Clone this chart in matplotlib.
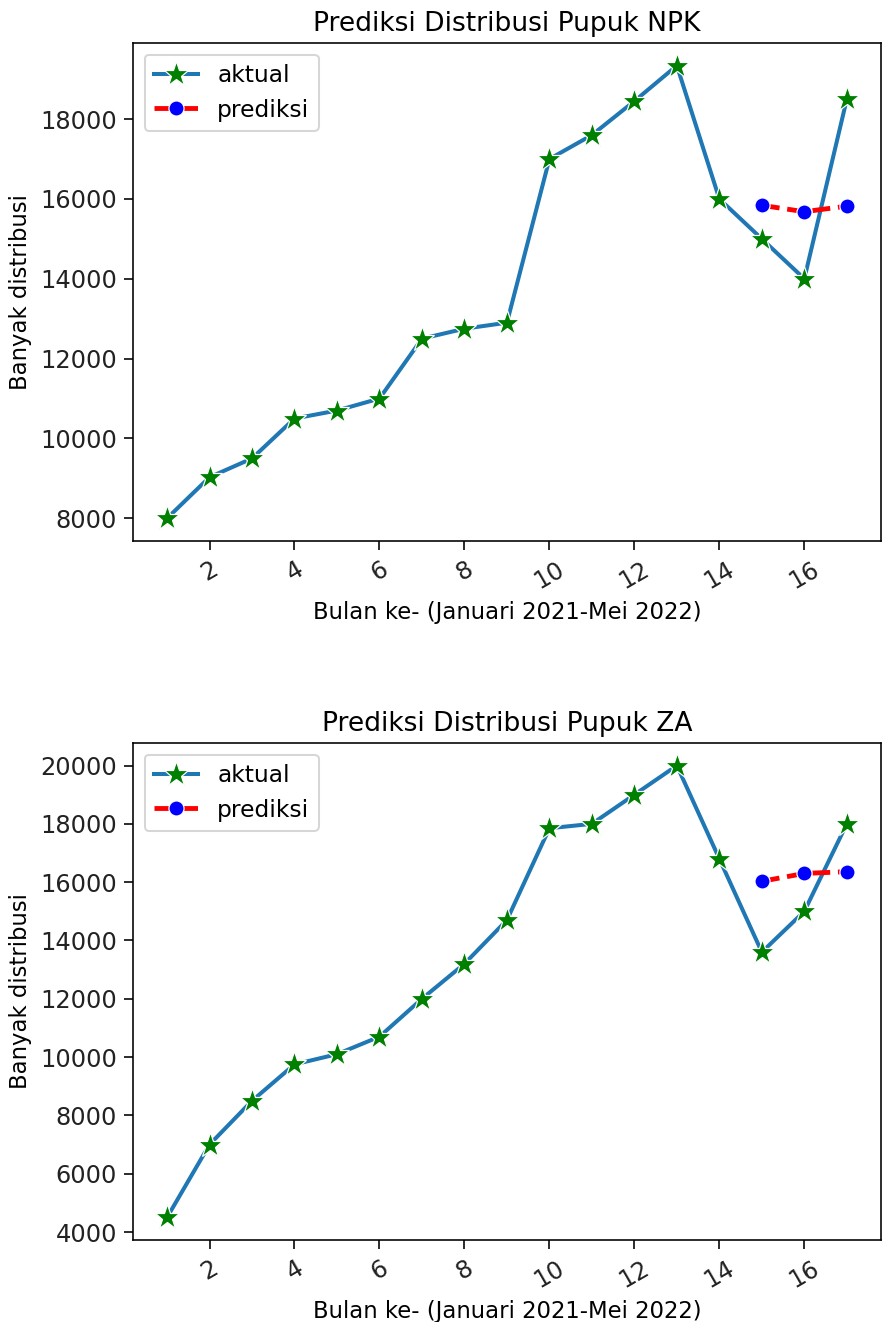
import numpy as np
import matplotlib.pyplot as plt

bulan = list(range(1, 18))
bulan_pred = [15, 16, 17]

npk_aktual = [8000, 9030, 9500, 10500, 10700, 11000, 12500, 12750, 12900,
              17000, 17600, 18450, 19340, 16000, 15000, 14000, 18500]
npk_pred = [15840, 15680, 15820]

za_aktual = [4500, 7000, 8500, 9750, 10100, 10700, 12000, 13200, 14700,
             17850, 18000, 19000, 20000, 16800, 13600, 15000, 18000]
za_pred = [16030, 16300, 16360]

DPI = 145
fig = plt.figure(figsize=(887 / DPI, 1322 / DPI), dpi=DPI)
ax1 = fig.add_axes([0.150, 0.5908, 0.843, 0.3767])
ax2 = fig.add_axes([0.150, 0.0620, 0.843, 0.3760])


def gambar(ax, aktual, pred, judul):
    ax.plot(bulan, aktual, color='#1f77b4', lw=2.0, marker='*', ms=13,
            mfc='green', mec='white', mew=0.6, label='aktual')
    ax.plot(bulan_pred, pred, color='red', lw=2.4, ls='--', marker='o', ms=7.5,
            mfc='blue', mec='white', mew=0.6, label='prediksi')
    ax.set_title(judul, fontsize=13.2)
    ax.set_xlabel('Bulan ke- (Januari 2021-Mei 2022)', fontsize=11.3)
    ax.set_ylabel('Banyak distribusi', fontsize=11.3)
    ax.set_xticks(range(2, 18, 2))
    ax.tick_params(axis='x', labelrotation=30)
    ax.tick_params(labelsize=12, labelcolor='#222222', length=4.5)
    ax.legend(loc='upper left', fontsize=11.6, handlelength=1.9)


gambar(ax1, npk_aktual, npk_pred, 'Prediksi Distribusi Pupuk NPK')
gambar(ax2, za_aktual, za_pred, 'Prediksi Distribusi Pupuk ZA')

fig.savefig('out.png', dpi=DPI)
